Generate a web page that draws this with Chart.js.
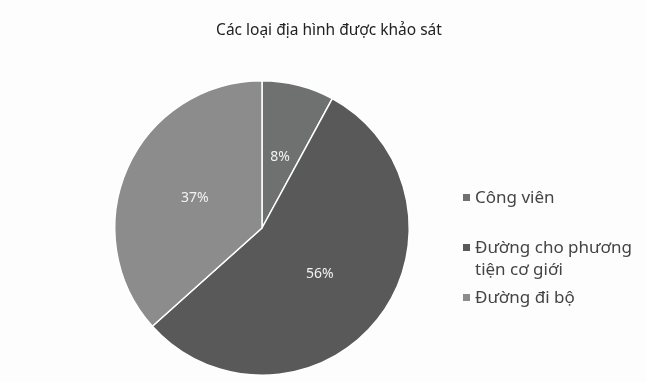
<!DOCTYPE html>
<html lang="vi">
<head>
<meta charset="utf-8">
<title>Các loại địa hình được khảo sát</title>
<script src="https://cdn.jsdelivr.net/npm/chart.js@4/dist/chart.umd.min.js"></script>
<style>
  html, body { margin: 0; padding: 0; background: #fdfdfd; }
  #wrap { width: 646px; height: 382px; position: relative; }
</style>
</head>
<body>
<div id="wrap"><canvas id="pie" width="646" height="382"></canvas></div>
<script>
  "use strict";

  const TITLE      = "Các loại địa hình được khảo sát";
  const categories = ["Công viên", "Đường cho phương tiện cơ giới", "Đường đi bộ"];
  const legendText = [["Công viên"], ["Đường cho phương", "tiện cơ giới"], ["Đường đi bộ"]];
  const shares     = [8, 56, 37];
  const colors     = ["#6f7070", "#595959", "#8c8c8c"];

  const FONT = "'Noto Sans', 'DejaVu Sans', sans-serif";

  // Title, slice percentages and the side legend are painted by hand
  const decorate = {
    id: "decorate",
    afterDatasetsDraw(chart) {
      const ctx = chart.ctx;
      const meta = chart.getDatasetMeta(0);
      ctx.save();
      ctx.textAlign = "center";
      ctx.textBaseline = "middle";
      ctx.fillStyle = "#f2f2f2";
      ctx.font = "14px " + FONT;
      meta.data.forEach((arc, i) => {
        const p = arc.tooltipPosition();
        ctx.fillText(shares[i] + "%", p.x, p.y);
      });

      ctx.fillStyle = "#222";
      ctx.font = "15.5px " + FONT;
      ctx.fillText(TITLE, 329, 31);

      ctx.textAlign = "left";
      ctx.font = "17px " + FONT;
      const rows = [198, 248, 298];
      legendText.forEach((lines, i) => {
        ctx.fillStyle = colors[i];
        ctx.fillRect(463, rows[i] - 4, 7, 7);
        ctx.fillStyle = "#444";
        lines.forEach((ln, j) => ctx.fillText(ln, 475, rows[i] + j * 22));
      });
      ctx.restore();
    }
  };

  new Chart(document.getElementById("pie"), {
    type: "pie",
    data: {
      labels: categories,
      datasets: [{
        data: shares,
        backgroundColor: colors,
        borderColor: "#ffffff",
        borderWidth: 1.5
      }]
    },
    options: {
      responsive: false,
      animation: false,
      layout: { padding: { left: 114, right: 236, top: 80, bottom: 6 } },
      plugins: {
        legend: { display: false },
        tooltip: { enabled: false },
        title: { display: false }
      }
    },
    plugins: [decorate]
  });
</script>
</body>
</html>
